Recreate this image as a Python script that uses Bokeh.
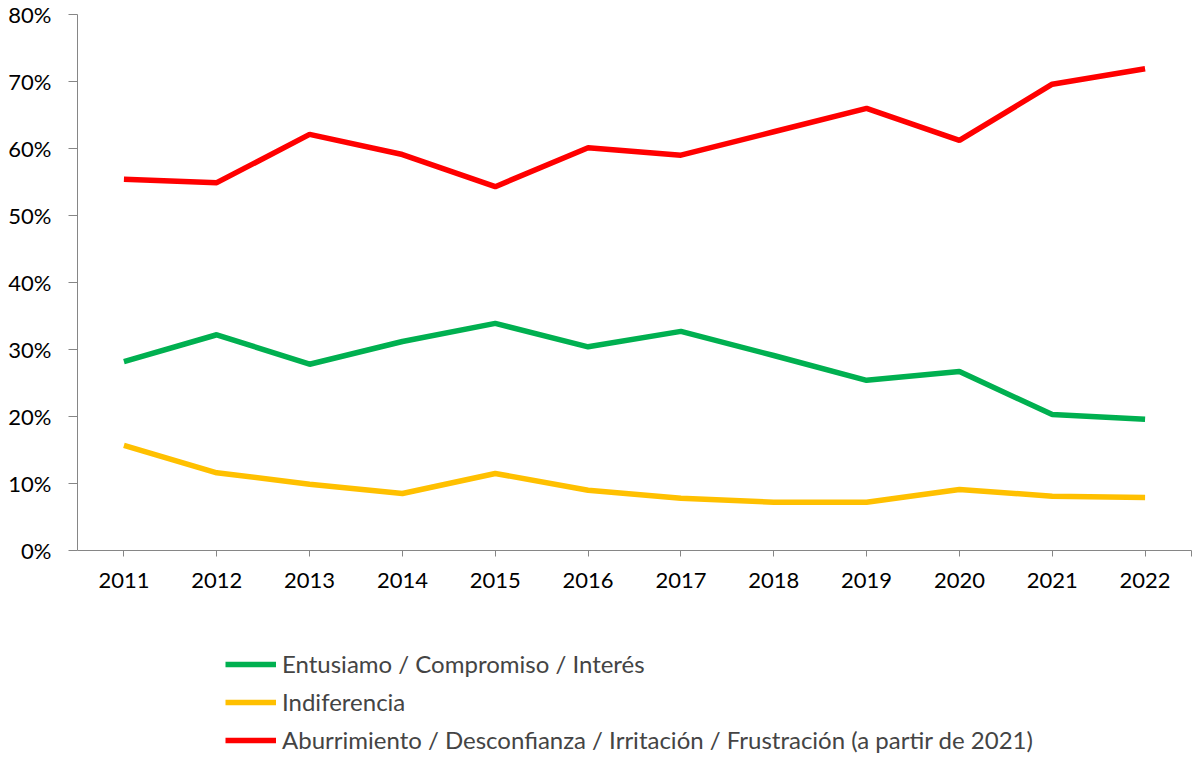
from bokeh.plotting import figure
from bokeh.layouts import column
from bokeh.models import Range1d, FixedTicker, PrintfTickFormatter, Legend, LegendItem
from bokeh.embed import file_html
from bokeh.resources import INLINE

years = [2011, 2012, 2013, 2014, 2015, 2016, 2017, 2018, 2019, 2020, 2021, 2022]
entusiasmo = [28.2, 32.2, 27.8, 31.2, 33.9, 30.4, 32.7, 29.1, 25.4, 26.7, 20.3, 19.6]
indiferencia = [15.7, 11.6, 9.9, 8.5, 11.5, 9.0, 7.8, 7.2, 7.2, 9.1, 8.1, 7.9]
aburrimiento = [55.4, 54.9, 62.1, 59.1, 54.3, 60.1, 59.0, 62.5, 66.0, 61.2, 69.6, 71.9]
y_ticks = [0, 10, 20, 30, 40, 50, 60, 70, 80]
names = ["Entusiamo / Compromiso / Interés", "Indiferencia",
         "Aburrimiento / Desconfianza / Irritación / Frustración (a partir de 2021)"]
colors = ["#00B050", "#FFC000", "#FF0000"]
series = [entusiasmo, indiferencia, aburrimiento]

FONT = "Lato"
FS = "22px"
AX = "#868686"
W = 1193

p = figure(width=W, height=620, output_backend="svg", toolbar_location=None,
           x_range=Range1d(years[0] - 0.5, years[-1] + 0.5), y_range=Range1d(0, 80),
           min_border_left=77, min_border_right=2, min_border_top=14, min_border_bottom=70)
p.outline_line_color = None
p.xgrid.visible = False
p.ygrid.visible = False

for vals, c in zip(series, colors):
    p.line(years, vals, line_color=c, line_width=5.5)

xa = p.xaxis[0]
xa.ticker = FixedTicker(ticks=years + [years[-1] + 0.5])
xa.major_label_overrides = {years[-1] + 0.5: ""}
xa.axis_line_color = AX
xa.major_tick_line_color = AX
xa.major_tick_out = 6
xa.major_tick_in = 0
xa.minor_tick_line_color = None
xa.major_label_text_font = FONT
xa.major_label_text_font_size = FS
xa.major_label_text_color = "#000000"
xa.major_label_standoff = 16

ya = p.yaxis[0]
ya.ticker = FixedTicker(ticks=y_ticks)
ya.formatter = PrintfTickFormatter(format="%d%%")
ya.axis_line_color = AX
ya.major_tick_line_color = AX
ya.major_tick_out = 9
ya.major_tick_in = 0
ya.minor_tick_line_color = None
ya.major_label_text_font = FONT
ya.major_label_text_font_size = FS
ya.major_label_text_color = "#000000"
ya.major_label_standoff = 17

# legend panel (lines drawn off-screen, only their legend glyphs show)
lg = figure(width=W, height=135, output_backend="svg", toolbar_location=None,
            x_axis_type=None, y_axis_type=None,
            x_range=Range1d(years[0] - 0.5, years[-1] + 0.5), y_range=Range1d(1000, 1001),
            min_border_left=77, min_border_right=2, min_border_top=0, min_border_bottom=0)
lg.outline_line_color = None
renderers = [lg.line(years, vals, line_color=c, line_width=5.5) for vals, c in zip(series, colors)]

legend = Legend(items=[LegendItem(label=n, renderers=[r]) for n, r in zip(names, renderers)],
                location=(148, 1), orientation="vertical",
                border_line_alpha=0, background_fill_alpha=0,
                glyph_width=51, glyph_height=20, label_height=20,
                label_text_font=FONT, label_text_font_size="24px",
                label_standoff=6, spacing=9, padding=0, margin=0)
lg.add_layout(legend, "center")

open("out.html", "w").write(file_html(column(p, lg, spacing=0), INLINE))
